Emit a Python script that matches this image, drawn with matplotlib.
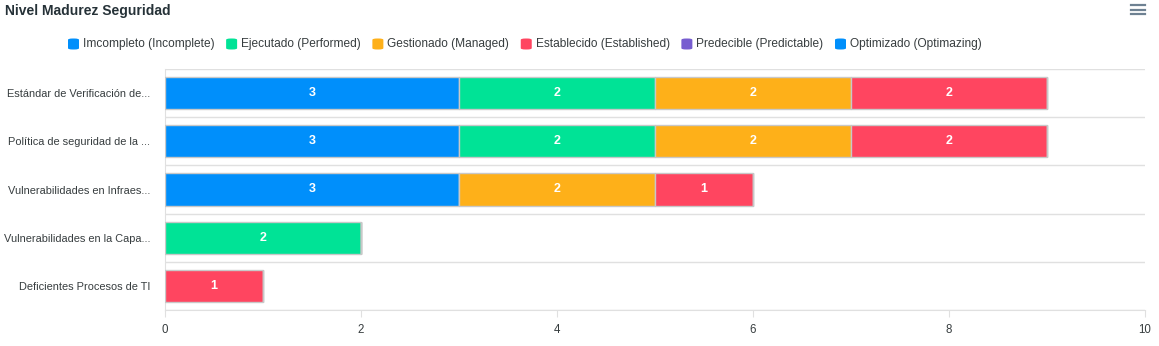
import numpy as np
import matplotlib.pyplot as plt
from matplotlib.patches import FancyBboxPatch
from matplotlib.lines import Line2D

plt.rcParams["font.family"] = ["Liberation Sans", "DejaVu Sans"]

# ── Data ──────────────────────────────────────────────────────
categories = [
    "Estándar de Verificación de...",
    "Política de seguridad de la ...",
    "Vulnerabilidades en Infraes...",
    "Vulnerabilidades en la Capa...",
    "Deficientes Procesos de TI",
]
series_names = [
    "Imcompleto (Incomplete)",
    "Ejecutado (Performed)",
    "Gestionado (Managed)",
    "Establecido (Established)",
    "Predecible (Predictable)",
    "Optimizado (Optimazing)",
]
incompleto = [3, 3, 3, 0, 0]
ejecutado = [2, 2, 0, 2, 0]
gestionado = [2, 2, 2, 0, 0]
establecido = [2, 2, 1, 0, 1]
predecible = [0, 0, 0, 0, 0]
optimizado = [0, 0, 0, 0, 0]
colors = ["#008FFB", "#00E396", "#FEB019", "#FF4560", "#775DD0", "#008FFB"]

series = [incompleto, ejecutado, gestionado, establecido, predecible, optimizado]

# ── Plot ──────────────────────────────────────────────────────
W, H = 1159, 346
fig = plt.figure(figsize=(W / 100, H / 100), dpi=100)
ax = fig.add_axes([165 / W, 1 - 310 / H, (1145 - 165) / W, (310 - 69) / H])

y = np.arange(len(categories))
left = np.zeros(len(categories))
for name, vals, c in zip(series_names, series, colors):
    vals = np.array(vals, dtype=float)
    bars = ax.barh(y, vals, left=left, height=0.67, color=c,
                   edgecolor="#c8c8c8", linewidth=1.0, label=name, zorder=3)
    for b, v in zip(bars, vals):
        if v > 0:
            ax.text(b.get_x() + b.get_width() / 2, b.get_y() + b.get_height() / 2,
                    f"{v:.0f}", ha="center", va="center", color="white",
                    fontsize=9, fontweight="bold", zorder=4)
    left += vals

ax.set_xlim(0, 10)
ax.set_ylim(len(categories) - 0.5, -0.5)
ax.set_xticks([0, 2, 4, 6, 8, 10])
ax.set_yticks(y)
ax.set_yticklabels(categories)
ax.tick_params(axis="y", length=0, pad=10.5, labelsize=7.9, labelcolor="#373d3f")
ax.tick_params(axis="x", length=5, color="#e0e0e0", pad=5, labelsize=8.3,
               labelcolor="#373d3f")

# row separators
for yy in np.arange(-0.5, len(categories), 1.0):
    ax.axhline(yy, color="#e0e0e0", linewidth=1, zorder=1)

for s in ["top", "right"]:
    ax.spines[s].set_visible(False)
ax.spines["left"].set_color("#e0e0e0")
ax.spines["bottom"].set_color("#e0e0e0")

# title
fig.text(5 / W, 1 - 10.5 / H, "Nivel Madurez Seguridad", ha="left", va="center",
         fontsize=10, fontweight="bold", color="#263238")

# legend, laid out item by item
renderer = fig.canvas.get_renderer()
x = 68
yc = 44
for name, c in zip(series_names, colors):
    fig.add_artist(FancyBboxPatch((x / W, (H - yc - 5.5) / H), 11 / W, 11 / H,
                                  boxstyle="round,pad=0,rounding_size=0.004",
                                  transform=fig.transFigure, facecolor=c,
                                  edgecolor="none"))
    t = fig.text((x + 15) / W, 1 - yc / H, name, ha="left", va="center",
                 fontsize=8.6, color="#373d3f")
    bb = t.get_window_extent(renderer)
    x = bb.x1 + 11.5

# menu icon
for yy in [5, 9.5, 14]:
    fig.add_artist(Line2D([1131 / W, 1145 / W], [1 - yy / H, 1 - yy / H],
                          color="#6e8192", linewidth=1.6))

fig.savefig("out.png", dpi=100)
